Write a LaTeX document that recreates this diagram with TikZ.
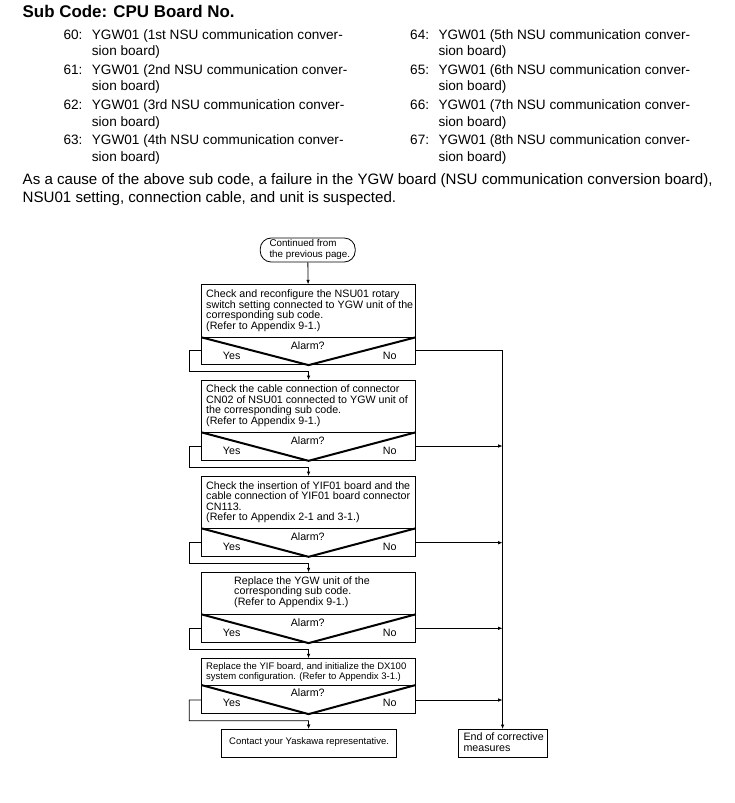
\documentclass[tikz,border=0pt]{standalone}
\usepackage{fontspec}
\setmainfont{Liberation Sans}
\usetikzlibrary{arrows.meta}
\begin{document}
\begin{tikzpicture}[x=1pt,y=-1pt,
  titlefont/.style={anchor=base west, inner sep=0pt, font=\fontsize{16.9}{18}\selectfont\bfseries},
  lst/.style={anchor=base west, inner sep=0pt, align=left, font=\fontsize{13.6}{16.4}\selectfont},
  para/.style={anchor=base west, inner sep=0pt, align=left, font=\fontsize{15.1}{17.5}\selectfont},
  btxt/.style={anchor=base west, inner sep=0pt, align=left, font=\fontsize{10.7}{10.6}\selectfont},
  stxt/.style={anchor=base west, inner sep=0pt, align=left, font=\fontsize{9.5}{10.8}\selectfont},
  ttxt/.style={anchor=base west, inner sep=0pt, align=left, font=\fontsize{9.8}{11}\selectfont},
  bx/.style={draw, line width=0.8pt, anchor=north west, inner sep=0pt, minimum width=213.7pt},
  con/.style={line width=0.8pt},
  arr/.style={line width=0.8pt, -{Latex[length=4.5pt,width=3.6pt]}},
  vline/.style={line width=2pt, line join=miter}
]
\useasboundingbox (0,0) rectangle (735,803);

% ---- header text (multi-line nodes are placed by their last baseline) ----
\node[titlefont] (title) at (22.5,17.5) {Sub Code: CPU Board No.};

\node[lst] (n60) at (63.3,39.3) {60:};
\node[lst] (d60) at (91.7,55.7) {YGW01 (1st NSU communication conver-\\sion board)};
\node[lst] (n61) at (63.3,74.5) {61:};
\node[lst] (d61) at (91.7,90.9) {YGW01 (2nd NSU communication conver-\\sion board)};
\node[lst] (n62) at (63.3,109.6) {62:};
\node[lst] (d62) at (91.7,126) {YGW01 (3rd NSU communication conver-\\sion board)};
\node[lst] (n63) at (63.3,144.6) {63:};
\node[lst] (d63) at (91.7,161) {YGW01 (4th NSU communication conver-\\sion board)};

\node[lst] (n64) at (410,39.3) {64:};
\node[lst] (d64) at (438.3,55.7) {YGW01 (5th NSU communication conver-\\sion board)};
\node[lst] (n65) at (410,74.5) {65:};
\node[lst] (d65) at (438.3,90.9) {YGW01 (6th NSU communication conver-\\sion board)};
\node[lst] (n66) at (410,109.6) {66:};
\node[lst] (d66) at (438.3,126) {YGW01 (7th NSU communication conver-\\sion board)};
\node[lst] (n67) at (410,144.6) {67:};
\node[lst] (d67) at (438.3,161) {YGW01 (8th NSU communication conver-\\sion board)};

\node[para] (cause) at (22.5,202) {As a cause of the above sub code, a failure in the YGW board (NSU communication conversion board),\\NSU01 setting, connection cable, and unit is suspected.};

% ---- flowchart ----
\node[draw, line width=0.8pt, rounded corners=11pt, minimum width=95pt, minimum height=24pt, inner sep=0pt] (start) at (307.7,250) {};
\node[ttxt] (starttxt) at (269.3,257.7) {Continued from\\the previous page.};

\node[bx, minimum height=80pt] (box1) at (201.3,284.3) {};
\node[bx, minimum height=80pt] (box2) at (201.3,380) {};
\node[bx, minimum height=80pt] (box3) at (201.3,476) {};
\node[bx, minimum height=70pt] (box4) at (201.3,572.3) {};
\node[bx, minimum height=55pt] (box5) at (201.3,658.3) {};
\node[bx, minimum width=175.5pt, minimum height=28pt] (contact) at (220.5,729) {};
\node[bx, minimum width=89pt, minimum height=28pt] (endbox) at (457.7,729) {};

\node[btxt] (t1) at (206,329.5) {Check and reconfigure the NSU01 rotary\\switch setting connected to YGW unit of the\\corresponding sub code.\\(Refer to Appendix 9-1.)};
\node[btxt] (t2) at (206,424.5) {Check the cable connection of connector\\CN02 of NSU01 connected to YGW unit of\\the corresponding sub code.\\(Refer to Appendix 9-1.)};
\node[btxt] (t3) at (206,520.8) {Check the insertion of YIF01 board and the\\cable connection of YIF01 board connector\\CN113.\\(Refer to Appendix 2-1 and 3-1.)};
\node[btxt] (t4) at (234,605.5) {Replace the YGW unit of the\\corresponding sub code.\\(Refer to Appendix 9-1.)};
\node[stxt] (t5) at (206,679.8) {Replace the YIF board, and initialize the DX100\\system configuration. (Refer to Appendix 3-1.)};
\node[stxt] (tc) at (229,744) {Contact your Yaskawa representative.};
\node[btxt] (te) at (463.3,751.3) {End of corrective\\measures};

\draw[arr] (start) -- (box1);

\foreach \i/\dv/\sy/\lb/\nx in {1/337.3/350/371.7/box2, 2/432.3/446/467.3/box3, 3/528.3/542.7/563.3/box4, 4/614.3/628.3/649/box5, 5/685/700/720.7/contact}{
  \draw[con] (box\i.west |- 0,\dv) -- (box\i.east |- 0,\dv);
  \draw[vline] (box\i.west |- 0,\dv) -- (box\i.south) -- (box\i.east |- 0,\dv);
  \node[btxt, anchor=base] (al\i) at (307.7,\dv+11.7) {Alarm?};
  \node[btxt] (yes\i) at (222.7,\dv+21.7) {Yes};
  \node[btxt] (no\i) at (382.7,\dv+21.7) {No};
  \draw[arr] (box\i.west |- 0,\sy) -- (189.3,\sy) |- (box\i.south |- 0,\lb) -- (\nx.north);
}

\draw[arr] (box1.east |- 0,350) -| (endbox.north);
\foreach \i/\sy in {2/446, 3/542.7, 4/628.3, 5/700}{
  \draw[arr] (box\i.east |- 0,\sy) -- (endbox.north |- 0,\sy);
}
\end{tikzpicture}
\end{document}
